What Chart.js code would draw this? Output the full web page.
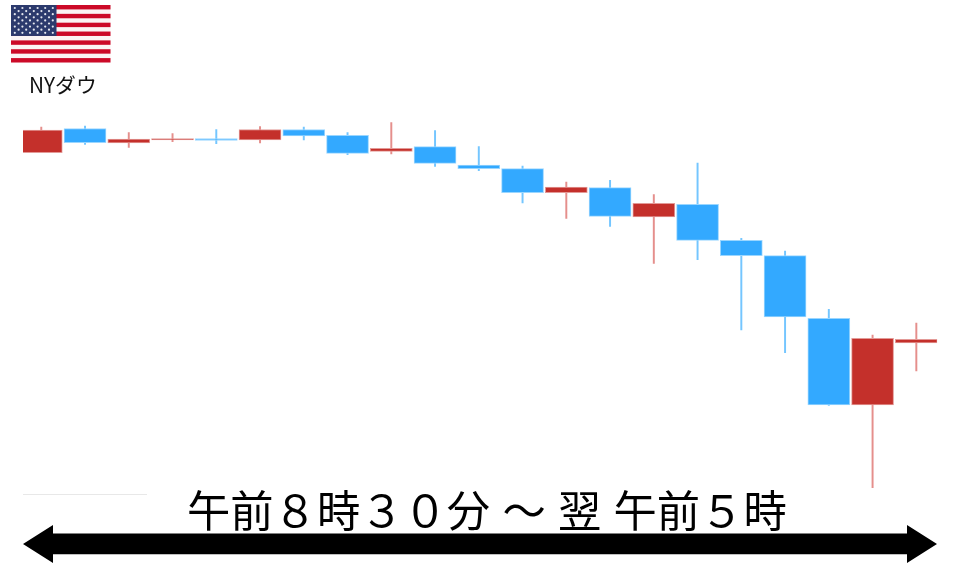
<!DOCTYPE html>
<html lang="ja">
<head>
<meta charset="utf-8">
<script src="https://cdn.jsdelivr.net/npm/chart.js@4"></script>
<style>
  html, body { margin: 0; padding: 0; background: #fff; }
  #wrap { position: relative; width: 960px; height: 567px; overflow: hidden; font-family: "Noto Sans CJK JP", sans-serif; color: #000; }
  #wrap canvas, #wrap svg { position: absolute; left: 0; top: 0; }
  .label { position: absolute; white-space: pre; line-height: 1; }
  #market { left: 29px; top: 74px; font-size: 20.8px; color: #111; }
  #span { left: 187px; top: 487px; font-size: 43.3px; word-spacing: 2.6px; }
</style>
</head>
<body>
<div id="wrap">
  <canvas id="candles" width="960" height="567"></canvas>
  <svg id="deco" width="960" height="567" xmlns="http://www.w3.org/2000/svg"></svg>
  <div class="label" id="market">NYダウ</div>
  <div class="label" id="span">午前８時３０分 ～ 翌 午前５時</div>
</div>
<script>
// values, vertical position counted up from the bottom edge
const bars = ['1','2','3','4','5','6','7','8','9','10','11','12','13','14','15','16','17','18','19','20','21'];
const opens  = [414.3, 438.5, 424.0, 427.0, 428.3, 427.0, 437.5, 431.7, 415.7, 420.3, 402.0, 398.3, 374.3, 379.3, 350.0, 362.7, 326.7, 311.3, 248.7, 162.0, 224.0];
const closes = [437.0, 424.3, 428.0, 428.5, 426.7, 437.5, 431.0, 413.7, 418.7, 403.7, 398.3, 374.3, 380.0, 350.7, 363.7, 326.7, 311.3, 250.0, 162.0, 228.7, 227.7];
const highs  = [440.0, 441.0, 434.5, 433.5, 437.5, 440.3, 440.0, 434.3, 444.3, 436.3, 420.3, 401.0, 385.0, 386.7, 372.3, 404.0, 328.7, 316.0, 257.7, 232.0, 244.0];
const lows   = [414.3, 422.7, 419.5, 425.3, 423.3, 424.0, 427.0, 412.3, 413.0, 400.7, 396.3, 364.0, 348.7, 340.7, 303.7, 307.3, 237.0, 214.3, 161.5, 79.3, 196.0];

const isUp = i => closes[i] > opens[i];
const body = bars.map((b, i) => [opens[i], closes[i]]);
const wick = bars.map((b, i) => [lows[i], highs[i]]);

new Chart(document.getElementById('candles'), {
  type: 'bar',
  data: {
    labels: bars,
    datasets: [
      {
        label: 'body',
        data: body,
        order: 1,
        grouped: false,
        barThickness: 42,
        borderSkipped: false,
        borderWidth: 1,
        backgroundColor: bars.map((b, i) => isUp(i) ? '#c4302b' : '#33a9ff'),
        borderColor: bars.map((b, i) => isUp(i) ? '#e39a97' : '#9ad6ff'),
        clip: { left: -3.6, right: -1, top: 0, bottom: 0 }
      },
      {
        label: 'wick',
        data: wick,
        order: 2,
        grouped: false,
        barThickness: 1.3,
        borderWidth: 0,
        backgroundColor: bars.map((b, i) => isUp(i) ? '#e58f8c' : '#74c6ff')
      }
    ]
  },
  options: {
    responsive: false,
    animation: false,
    layout: { padding: { left: 19.4, right: 21.8, top: 0, bottom: 0 } },
    plugins: { legend: { display: false }, tooltip: { enabled: false } },
    scales: {
      x: { display: false },
      y: { display: false, min: 0, max: 567 }
    }
  }
});

// flag, rule and arrow
const deco = document.getElementById('deco');
const add = (name, attrs) => {
  const el = document.createElementNS('http://www.w3.org/2000/svg', name);
  Object.keys(attrs).forEach(k => el.setAttribute(k, attrs[k]));
  deco.appendChild(el);
};

const flagX = 11, flagY = 5, flagW = 99.5, stripeH = 57.5 / 13;
add('rect', { x: flagX, y: flagY, width: flagW, height: 57.5, fill: '#fbf4f4' });
for (let i = 0; i < 13; i += 2) {
  add('rect', { x: flagX, y: flagY + i * stripeH, width: flagW, height: stripeH, fill: '#cc0a28' });
}
add('rect', { x: flagX, y: flagY, width: 45.5, height: 7 * stripeH, fill: '#2c3a6d' });
for (let row = 0; row < 9; row++) {
  const n = row % 2 ? 5 : 6;
  for (let col = 0; col < n; col++) {
    add('circle', {
      cx: flagX + 3.8 + (row % 2 ? 3.8 : 0) + col * 7.6,
      cy: flagY + 3 + row * 3.1,
      r: 1.1,
      fill: '#e6e8f0'
    });
  }
}

add('rect', { x: 23, y: 494, width: 124, height: 1, fill: '#e8e8e8' });
add('polygon', {
  points: '23,544 53,525 53,533.5 907,533.5 907,525 937,544 907,563 907,554.3 53,554.3 53,563',
  fill: '#000'
});
</script>
</body>
</html>
